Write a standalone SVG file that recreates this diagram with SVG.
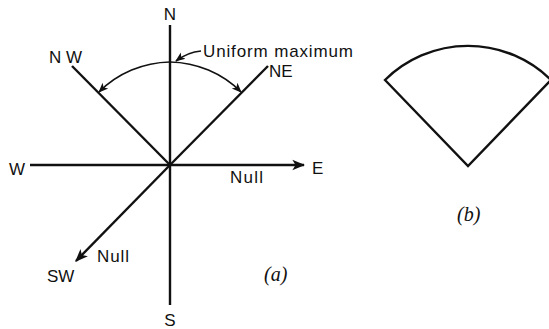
<svg xmlns="http://www.w3.org/2000/svg" width="549" height="329" viewBox="0 0 549 329">
<defs>
<style>
.ln{stroke:#111;stroke-width:2.4;fill:none;stroke-linecap:butt}
.thin{stroke:#111;stroke-width:1.6;fill:none}
.lb{font-family:"Liberation Sans",Arial,sans-serif;font-size:17px;fill:#111}
.sm{font-family:"Liberation Sans",Arial,sans-serif;font-size:17px;fill:#111}
.it{font-family:"Liberation Serif","Times New Roman",serif;font-style:italic;font-size:20px;fill:#111}
</style>
<marker id="ah" viewBox="0 0 10 10" refX="9" refY="5" markerWidth="10" markerHeight="10" markerUnits="userSpaceOnUse" orient="auto">
<path d="M0,1 L10,5 L0,9 L2.5,5 Z" fill="#111"/>
</marker>
<marker id="ahL" viewBox="0 0 10 10" refX="9" refY="5" markerWidth="13" markerHeight="13" markerUnits="userSpaceOnUse" orient="auto">
<path d="M0,1 L10,5 L0,9 L2.5,5 Z" fill="#111"/>
</marker>
</defs>
<g id="connectors">
<line class="ln" x1="170" y1="25" x2="170" y2="305"/>
<line class="ln" x1="30" y1="165" x2="170" y2="165"/>
<line class="ln" x1="170" y1="165" x2="304" y2="165" marker-end="url(#ahL)"/>
<line class="ln" x1="72" y1="66" x2="170" y2="165"/>
<line class="ln" x1="268" y1="66" x2="170" y2="165"/>
<line class="ln" x1="170" y1="165" x2="76" y2="261" marker-end="url(#ahL)"/>
<path class="thin" d="M170,62 A103,103 0 0 0 99,92" marker-end="url(#ah)"/>
<path class="thin" d="M170,62 A103,103 0 0 1 241,92" marker-end="url(#ah)"/>
<path class="thin" d="M201,51 Q188,52 176,61" marker-end="url(#ah)"/>
</g>
<g id="labels-a">
<text class="lb" x="170" y="20" text-anchor="middle">N</text>
<text class="lb" x="49" y="63">N W</text>
<text class="lb" x="269" y="77">NE</text>
<text class="lb" x="9" y="175">W</text>
<text class="lb" x="312" y="174">E</text>
<text class="lb" x="47" y="282">SW</text>
<text class="lb" x="170" y="326" text-anchor="middle">S</text>
<text class="sm" x="203" y="57" textLength="150" lengthAdjust="spacing">Uniform maximum</text>
<text class="sm" x="230" y="183" textLength="33" lengthAdjust="spacing">Null</text>
<text class="sm" x="97" y="262" textLength="32" lengthAdjust="spacing">Null</text>
<text class="it" x="264" y="281">(a)</text>
</g>
<g id="sector-b">
<path class="ln" d="M385,80 L468,166 L551,80 A118,118 0 0 0 385,80 Z"/>
<text class="it" x="457" y="221">(b)</text>
</g>
</svg>
